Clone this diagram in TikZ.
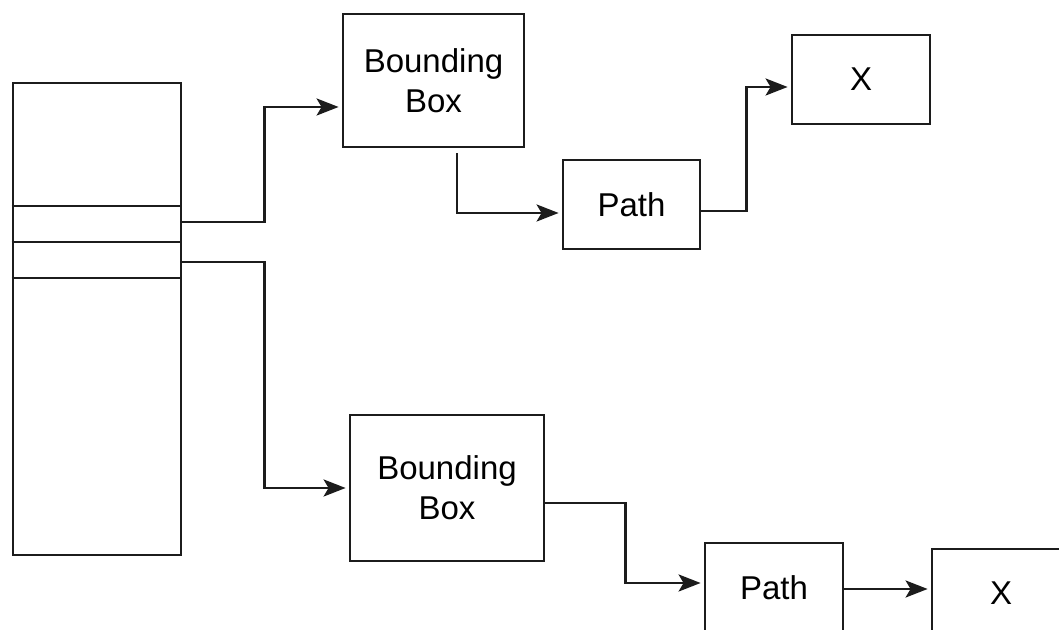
\documentclass[tikz,border=0pt]{standalone}
\usepackage{fontspec}
\setmainfont{Liberation Sans}
\usetikzlibrary{arrows.meta, positioning, calc}
\definecolor{ink}{HTML}{1C1C1C}

\begin{document}
\begin{tikzpicture}[x=0.5pt, y=0.5pt, font=\fontsize{16.5}{20}\selectfont,
    box/.style={draw=ink, line width=1.4pt, rectangle, align=center, inner sep=0pt},
    link/.style={draw=ink, line width=1.4pt, shorten >=1.5pt, -{Stealth[length=11pt, width=8.5pt, inset=2.5pt]}}]
    \useasboundingbox (0,0) rectangle (1059,630);
    \clip (0,0) rectangle (1059,630);
    % table with two slots
    \node[box, minimum width=84pt, minimum height=236pt] (table) at (97,311) {};
    \foreach \y in {424,388,352}{ \draw[ink, line width=1.4pt] (table.west |- 0,\y) -- (table.east |- 0,\y); }
    \coordinate (slot1) at (table.east |- 0,408);
    \coordinate (slot2) at (table.east |- 0,368);
    % upper chain
    \node[box, minimum width=90.5pt, minimum height=66.5pt] (bb1) at (433.5,549.5) {Bounding\\Box};
    \node[box, minimum width=68.5pt, minimum height=44.5pt] (path1) at (631.5,425.5) {Path};
    \node[box, minimum width=69pt, minimum height=44.5pt] (x1) at (861,550.5) {X};
    \draw[link] (slot1) -- ++(41pt,0) |- ([yshift=-13.25pt]bb1.west);
    \draw[link] ([xshift=11.75pt, yshift=-2.5pt]bb1.south) |- ([yshift=-4.25pt]path1.west);
    \draw[link] ([yshift=-3.25pt]path1.east) -- ++(22.5pt,0) |- ([yshift=-3.75pt]x1.west);
    % lower chain
    \node[box, minimum width=97pt, minimum height=73pt] (bb2) at (447,142) {Bounding\\Box};
    \node[box, minimum width=69pt, minimum height=44.5pt] (path2) at (774,42.5) {Path};
    \node[box, minimum width=69pt, minimum height=44.5pt] (x2) at (1001,36.5) {X};
    \draw[link] (slot2) -- ++(41pt,0) |- (bb2.west);
    \draw[link] ([yshift=-7.5pt]bb2.east) -- ++(40pt,0) |- ([yshift=2.25pt]path2.west);
    \draw[link] ([yshift=-0.75pt]path2.east) -- ([yshift=-0.75pt]path2.east -| x2.west);
\end{tikzpicture}
\end{document}
